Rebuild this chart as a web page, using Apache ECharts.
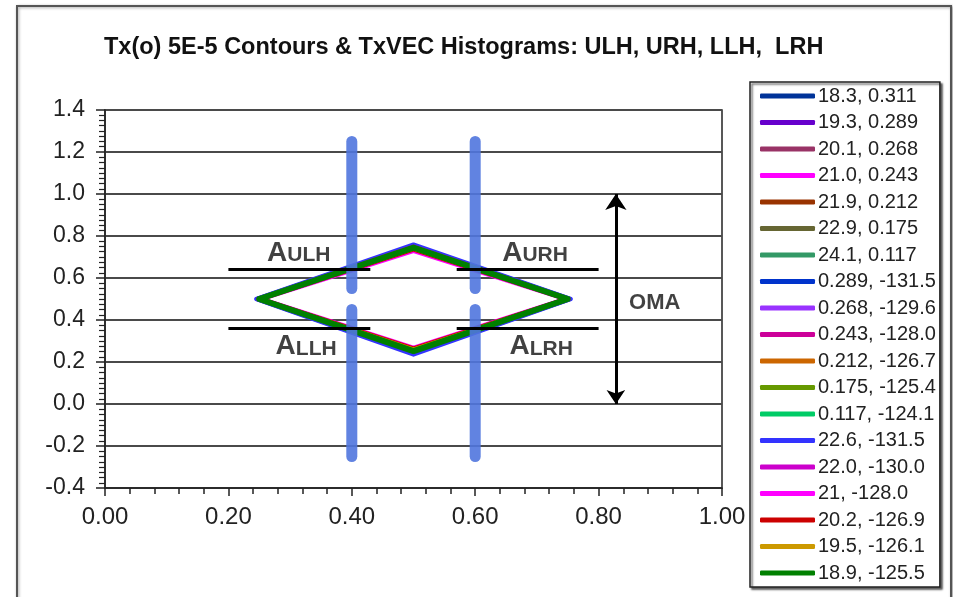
<!DOCTYPE html>
<html>
<head>
<meta charset="utf-8">
<script src="https://cdn.jsdelivr.net/npm/echarts@6/dist/echarts.min.js"></script>
<style>
html,body{margin:0;padding:0;background:#fff;}
#chart{width:953px;height:597px;}
</style>
</head>
<body>
<div id="chart"></div>
<script>
// ---- data ----
const seriesNames = [
  '18.3, 0.311','19.3, 0.289','20.1, 0.268','21.0, 0.243','21.9, 0.212','22.9, 0.175','24.1, 0.117',
  '0.289, -131.5','0.268, -129.6','0.243, -128.0','0.212, -126.7','0.175, -125.4','0.117, -124.1',
  '22.6, -131.5','22.0, -130.0','21, -128.0','20.2, -126.9','19.5, -126.1','18.9, -125.5'
];
const seriesColors = [
  '#003399','#6600cc','#993366','#ff00ff','#993300','#666633','#339966',
  '#0033cc','#9933ff','#cc0099','#cc6600','#669900','#00cc66',
  '#3333ff','#cc00cc','#ff00ff','#cc0000','#cc9900','#008000'
];
// contour vertices (eye diamond) per series
const leftX   = [0.250,0.248,0.252,0.250,0.252,0.250,0.250, 0.246,0.248,0.252,0.250,0.250,0.250, 0.245,0.248,0.254,0.252,0.250,0.250];
const rightX  = [0.750,0.752,0.748,0.750,0.748,0.750,0.750, 0.754,0.752,0.748,0.750,0.750,0.750, 0.755,0.752,0.746,0.748,0.750,0.750];
const topY    = [0.745,0.750,0.740,0.735,0.740,0.745,0.745, 0.755,0.750,0.740,0.745,0.745,0.745, 0.760,0.750,0.728,0.735,0.740,0.745];
const bottomY = [0.255,0.250,0.260,0.265,0.260,0.255,0.255, 0.240,0.245,0.260,0.255,0.255,0.255, 0.235,0.250,0.268,0.265,0.260,0.252];
const eyeCenterX = 0.5;
const eyeCenterY = 0.5;
// TxVEC histograms (vertical bars)
const histX = [0.40, 0.60];
const histUpper = [0.55, 1.25];
const histLower = [-0.25, 0.45];
// aperture levels
const levelUpper = 0.64;
const levelLower = 0.36;
const levelSpans = [[0.20, 0.43], [0.57, 0.80]];
// OMA arrow
const omaX = 0.828;
const omaRange = [0.0, 1.0];
// annotation labels
const annoLabels = [
  {big:'A', small:'ULH', x:0.314, y:0.72},
  {big:'A', small:'URH', x:0.697, y:0.72},
  {big:'A', small:'LLH', x:0.326, y:0.274},
  {big:'A', small:'LRH', x:0.707, y:0.274}
];
const omaLabel = {text:'OMA', x:0.891, y:0.48};
const titleText = 'Tx(o) 5E-5 Contours & TxVEC Histograms: ULH, URH, LLH,  LRH';

// ---- chart ----
const chart = echarts.init(document.getElementById('chart'));
const series = [];
seriesNames.forEach((name, i) => {
  series.push({
    name: name, type: 'line', symbol: 'none', silent: true, animation: false,
    z: 3,
    lineStyle: {color: seriesColors[i], width: i === seriesNames.length - 1 ? 6 : 4, cap: 'round', join: 'round'},
    itemStyle: {color: seriesColors[i]},
    data: [[leftX[i], eyeCenterY],[eyeCenterX, topY[i]],[rightX[i], eyeCenterY],[eyeCenterX, bottomY[i]],[leftX[i], eyeCenterY]]
  });
});
histX.forEach(x => {
  [histUpper, histLower].forEach(r => {
    series.push({
      type:'line', symbol:'none', silent:true, animation:false, z:4,
      lineStyle:{color:'rgba(80,118,222,0.9)', width:11, cap:'round'},
      data:[[x, r[0]],[x, r[1]]]
    });
  });
});
[levelUpper, levelLower].forEach(y => {
  levelSpans.forEach(s => {
    series.push({
      type:'line', symbol:'none', silent:true, animation:false, z:5,
      lineStyle:{color:'#000', width:3},
      data:[[s[0], y],[s[1], y]]
    });
  });
});
series.push({
  type:'lines', coordinateSystem:'cartesian2d', silent:true, animation:false, z:5,
  symbol:['arrow','arrow'], symbolSize:[14,16],
  lineStyle:{color:'#000', width:3, opacity:1},
  data:[{coords:[[omaX, omaRange[0]],[omaX, omaRange[1]]]}]
});
series.push({
  type:'scatter', symbolSize:0, silent:true, animation:false, z:6,
  data: annoLabels.map(a => ({value:[a.x, a.y], big:a.big, small:a.small})),
  label:{show:true, position:'inside', formatter: p => '{b|' + p.data.big + '}{s|' + p.data.small + '}',
    rich:{
      b:{fontSize:28, fontWeight:'bold', color:'#111', fontFamily:'"Liberation Sans", Arial, sans-serif'},
      s:{fontSize:21, fontWeight:'bold', color:'#111', fontFamily:'"Liberation Sans", Arial, sans-serif', verticalAlign:'bottom', padding:[0,0,1,0]}
    }}
});
series.push({
  type:'scatter', symbolSize:0, silent:true, animation:false, z:6,
  data:[{value:[omaLabel.x, omaLabel.y]}],
  label:{show:true, position:'inside', formatter: omaLabel.text, fontSize:22, fontWeight:'bold', color:'#111',
    fontFamily:'"Liberation Sans", Arial, sans-serif'}
});

const option = {
  animation:false,
  backgroundColor:'#fff',
  title:{
    text:titleText, left:99, top:31,
    textStyle:{fontSize:23.5, fontWeight:'bold', color:'#111', fontFamily:'"Liberation Sans", Arial, sans-serif'}
  },
  graphic:[{
    type:'rect', left:16, top:5, z:-1, silent:true,
    shape:{width:934, height:600},
    style:{fill:'#fff', stroke:'#555', lineWidth:2, shadowColor:'rgba(0,0,0,0.35)', shadowBlur:3, shadowOffsetX:1, shadowOffsetY:1}
  }],
  legend:{
    data:seriesNames, orient:'vertical', left:750, top:82,
    icon:'roundRect',
    itemWidth:55, itemHeight:5, itemGap:6.5,
    padding:[4,4,4,10],
    borderColor:'#222', borderWidth:1.5, backgroundColor:'#fff',
    shadowColor:'rgba(0,0,0,0.6)', shadowBlur:2, shadowOffsetX:2, shadowOffsetY:2,
    selectedMode:false,
    textStyle:{fontSize:20, color:'#222', padding:[0,0,0,-2], fontFamily:'"Liberation Sans", Arial, sans-serif'}
  },
  grid:{left:105, right:231, top:110, bottom:109, show:true, borderColor:'#222', borderWidth:1.5, backgroundColor:'#fff'},
  xAxis:{
    type:'value', min:0, max:1, interval:0.2,
    axisLine:{show:true, onZero:false, lineStyle:{color:'#222', width:1.5}},
    axisTick:{show:true, length:8, lineStyle:{color:'#222', width:1.5}},
    minorTick:{show:true, splitNumber:5, length:6, lineStyle:{color:'#222', width:1.5}},
    splitLine:{show:false},
    axisLabel:{fontSize:24, color:'#222', margin:17, formatter: v => v.toFixed(2), fontFamily:'"Liberation Sans", Arial, sans-serif'}
  },
  yAxis:{
    type:'value', min:-0.4, max:1.4, interval:0.2,
    axisLine:{show:true, onZero:false, lineStyle:{color:'#222', width:1.5}},
    axisTick:{show:true, length:9, lineStyle:{color:'#222', width:1.5}},
    minorTick:{show:true, splitNumber:8, length:6, lineStyle:{color:'#222', width:1.2}},
    splitLine:{show:true, lineStyle:{color:'#4a4a4a', width:2}},
    axisLabel:{fontSize:23, color:'#222', margin:20, formatter: v => v.toFixed(1), fontFamily:'"Liberation Sans", Arial, sans-serif'}
  },
  series:series
};
chart.setOption(option);
</script>
</body>
</html>
